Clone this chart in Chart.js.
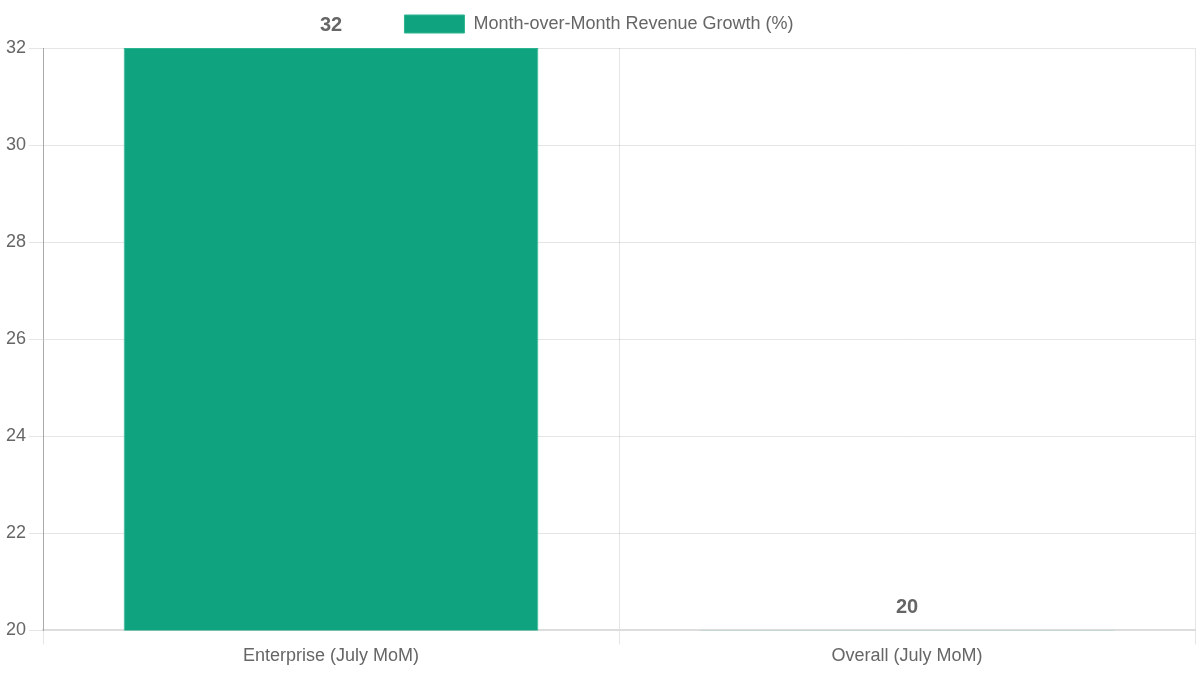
<!DOCTYPE html>
<html>
<head>
<meta charset="utf-8">
<script src="https://cdn.jsdelivr.net/npm/chart.js@4"></script>
<style>
  html, body { margin: 0; padding: 0; background: #fff; }
  #wrap { width: 1200px; height: 675px; }
</style>
</head>
<body>
<div id="wrap"><canvas id="growth"></canvas></div>
<script>
const categories = ['Enterprise (July MoM)', 'Overall (July MoM)'];
const growthValues = [32, 20];
const seriesLabel = 'Month-over-Month Revenue Growth (%)';
const yMin = 20;
const yMax = 32;
const yStep = 2;

// value labels over each bar
const valueLabels = {
    id: 'valueLabels',
    afterDatasetsDraw(chart) {
        const ctx = chart.ctx;
        ctx.save();
        ctx.font = 'bold 20px "Liberation Sans", Arial, sans-serif';
        ctx.fillStyle = '#666';
        ctx.textAlign = 'center';
        ctx.textBaseline = 'bottom';
        chart.getDatasetMeta(0).data.forEach((bar, i) => {
            ctx.fillText(growthValues[i], bar.x, bar.y - 13);
        });
        ctx.restore();
    }
};

// a bit more room under the legend
const legendGap = {
    id: 'legendGap',
    beforeInit(chart) {
        const fit = chart.legend.fit;
        chart.legend.fit = function () {
            fit.call(this);
            this.height += 5;
        };
    }
};

Chart.defaults.font.family = '"Liberation Sans", Arial, sans-serif';
Chart.defaults.color = '#666';

new Chart(document.getElementById('growth').getContext('2d'), {
    type: 'bar',
    data: {
        labels: categories,
        datasets: [{
            label: seriesLabel,
            data: growthValues,
            backgroundColor: '#10a37f',
            borderColor: '#2bb58f',
            borderWidth: 1
        }]
    },
    options: {
        responsive: true,
        maintainAspectRatio: false,
        animation: false,
        layout: { padding: { top: 1, left: 3, right: 5, bottom: 7 } },
        plugins: {
            legend: {
                labels: {
                    font: { size: 18 },
                    boxWidth: 60,
                    boxHeight: 18,
                    padding: 14
                }
            },
            tooltip: { enabled: false }
        },
        scales: {
            x: {
                grid: { color: 'rgba(0,0,0,0.1)', tickLength: 14 },
                border: { color: '#ddd', width: 2 },
                ticks: { font: { size: 18 }, padding: 1 }
            },
            y: {
                min: yMin,
                max: yMax,
                ticks: { stepSize: yStep, font: { size: 18 } },
                grid: { color: 'rgba(0,0,0,0.1)', tickLength: 14 },
                border: { color: '#aaa' }
            }
        }
    },
    plugins: [valueLabels, legendGap]
});
</script>
</body>
</html>
